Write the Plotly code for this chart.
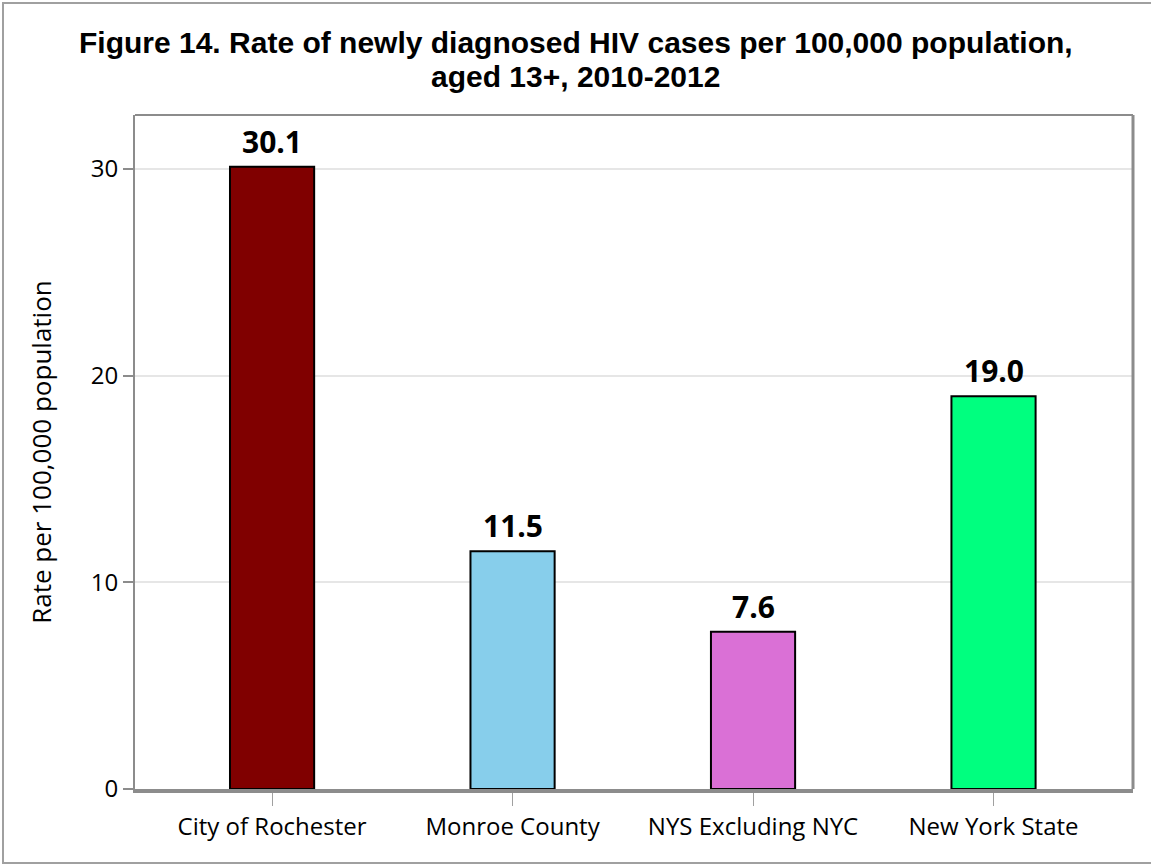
import plotly.graph_objects as go

categories = ["City of Rochester", "Monroe County", "NYS Excluding NYC", "New York State"]
rates = [30.1, 11.5, 7.6, 19.0]
colors = ["#800000", "#87ceeb", "#da70d6", "#00ff7f"]
y_ticks = [0, 10, 20, 30]
title_lines = ["Figure 14. Rate of newly diagnosed HIV cases per 100,000 population,",
               "aged 13+, 2010-2012"]

W, H = 1151, 865
L, R, T, B = 135, 1151 - 1133, 115, 865 - 789

fig = go.Figure()
fig.add_trace(go.Bar(
    x=categories, y=rates,
    marker=dict(color=colors, line=dict(color="black", width=2)),
    width=0.35,
    cliponaxis=False,
    hoverinfo="skip",
))

for c, v in zip(categories, rates):
    fig.add_annotation(x=c, y=v, xref="x", yref="y", text=f"{v:.1f}",
                       showarrow=False, yanchor="bottom", yshift=3,
                       font=dict(family="Open Sans", size=30, color="black", weight="bold"))

pw = W - L - R
ph = H - T - B
def px(x):
    return (x - L) / pw
def py(y):
    return (H - B - y) / ph

fig.add_shape(type="rect", xref="paper", yref="paper",
              x0=px(3), x1=px(1160), y0=py(863), y1=py(3),
              line=dict(color="#a0a0a0", width=2), layer="below")

for i, (line, base) in enumerate(zip(title_lines, [53, 87])):
    fig.add_annotation(x=px(W / 2), y=py(base + 8), xref="paper", yref="paper",
                       text=line, showarrow=False, xanchor="center", yanchor="bottom",
                       font=dict(family="Liberation Sans, Arial", size=30, color="black", weight="bold"))

fig.update_layout(
    width=W, height=H,
    margin=dict(l=L, r=R, t=T, b=B, autoexpand=False),
    paper_bgcolor="white", plot_bgcolor="white",
    showlegend=False,
    xaxis=dict(
        range=[-0.57, 3.58],
        showline=True, linecolor="#8c8c8c", linewidth=4, mirror=False,
        ticks="outside", ticklen=13, tickcolor="#a0a0a0", tickwidth=1,
        tickfont=dict(family="Open Sans", size=24, color="black"),
        showgrid=False,
    ),
    yaxis=dict(
        range=[0, 32.6],
        tickvals=y_ticks,
        showline=True, linecolor="#8c8c8c", linewidth=2, mirror=False,
        ticks="outside", ticklen=10, tickcolor="#8c8c8c", tickwidth=2,
        tickfont=dict(family="Open Sans", size=24, color="black"),
        showgrid=True, gridcolor="#e6e6e6", gridwidth=2,
        zeroline=False,
        title=dict(text="Rate per 100,000 population",
                   font=dict(family="Open Sans", size=26, color="black"), standoff=32),
    ),
)
fig.add_shape(type="line", xref="paper", yref="paper", x0=0, x1=1, y0=1, y1=1,
              line=dict(color="#8c8c8c", width=2))
fig.add_shape(type="line", xref="paper", yref="paper", x0=1, x1=1, y0=0, y1=1,
              line=dict(color="#8c8c8c", width=3))

fig.write_html("out.html", config={"displayModeBar": False},
               post_script="document.body.style.margin='0';")
